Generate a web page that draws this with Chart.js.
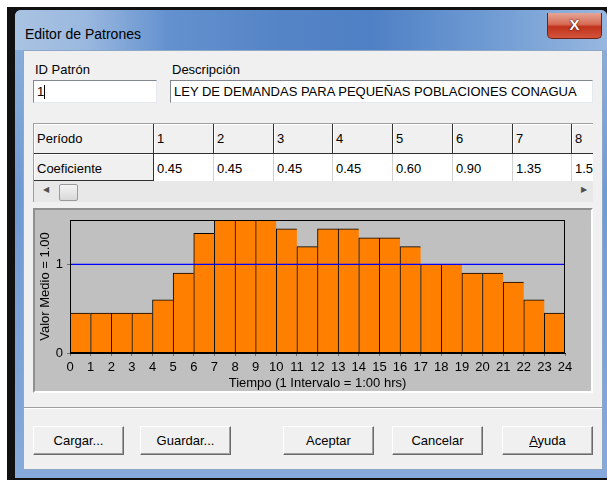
<!DOCTYPE html>
<html>
<head>
<meta charset="utf-8">
<script src="https://cdn.jsdelivr.net/npm/chart.js@4.4.0/dist/chart.umd.min.js"></script>
<style>
  body { margin: 0; width: 607px; height: 480px; background: #fff; position: relative; overflow: hidden;
         font-family: "Liberation Sans", Arial, sans-serif; font-size: 13px; color: #000; }
  .abs { position: absolute; box-sizing: border-box; }
  .outer { left: 7px; top: 7px; width: 600px; height: 473px; background: #111; }
  .frame { left: 15px; top: 10px; width: 592px; height: 468px; border-radius: 6px 6px 0 0;
           background: linear-gradient(180deg, #8fb2dc 0%, #6f9ad2 40%, #86aadb 100%); }
  .titlebar { left: 15px; top: 10px; width: 592px; height: 40px; border-radius: 6px 6px 0 0;
              background: linear-gradient(90deg, #a9c3e2 0%, #9ab8df 12%, #6391cf 26%, #5584c6 45%, #4f80c5 60%, #6f9bd3 80%, #97b7e0 100%); }
  .title { left: 25px; top: 26px; font-size: 14px; color: #000; }
  .close { left: 547px; top: 13px; width: 55px; height: 26px; border: 1px solid #6b2418; border-top: none;
           border-radius: 0 0 5px 5px; background: linear-gradient(180deg, #e6a596 0%, #d76b55 45%, #c1321c 55%, #d2553b 100%);
           color: #fff; font: bold 15px "Liberation Sans", Arial, sans-serif; text-align: center; line-height: 24px;
           text-shadow: 0 0 2px #4a1208, 0 0 1px #4a1208; }
  .content { left: 23px; top: 50px; width: 580px; height: 420px; background: #f0f0f0; border: 1px solid #8ea7c6; }
  .label { font-size: 13px; }
  .input { background: #fff; border: 1px solid; border-color: #828790 #e3e9ef #e3e9ef #828790; height: 23px;
           padding: 3px 0 0 3px; white-space: nowrap; overflow: hidden; }
  .caret { left: 44px; top: 85px; width: 1px; height: 14px; background: #000; }
  .grid { left: 33px; top: 123px; width: 560px; height: 79px; overflow: hidden; background: #f0f0f0;
          border-top: 1px solid #a0a0a0; border-left: 1px solid #a0a0a0; }
  .cell { position: absolute; box-sizing: border-box; padding: 7px 0 0 3px; white-space: nowrap; overflow: hidden; }
  .fixed { background: #f0f0f0; border-right: 1px solid #303030; border-bottom: 1px solid #303030;
           box-shadow: inset 1px 1px #fff; }
  .data { background: #fff; border-right: 1px solid #d0d0d0; }
  .scroll { left: 0; top: 57px; width: 560px; height: 21px; background: #e8e8e8; position: absolute; }
  .thumb { left: 25px; top: 3px; width: 17px; height: 15px; position: absolute; border: 1px solid #9a9a9a;
           border-radius: 2px; background: linear-gradient(180deg, #f4f4f4, #d8d8d8); }
  .arrow { position: absolute; top: 4px; font-size: 8px; color: #505050; }
  .panel { left: 33px; top: 208px; width: 560px; height: 185px; background: #c0c0c0; border: 2px solid;
           border-color: #909090 #fff #fff #909090; }
  .sep { left: 24px; top: 407px; width: 578px; height: 2px; border-top: 1px solid #a0a0a0; border-bottom: 1px solid #fff; }
  .btn { top: 426px; width: 91px; height: 29px; background: #f0f0f0; border: 1px solid;
         border-color: #fff #6a6a6a #6a6a6a #fff; box-shadow: inset -1px -1px #a0a0a0;
         text-align: center; line-height: 27px; font-size: 13px; }
</style>
</head>
<body>
<div class="abs outer"></div>
<div class="abs frame"></div>
<div class="abs titlebar"></div>
<div class="abs title">Editor de Patrones</div>
<div class="abs close">X</div>
<div class="abs content"></div>

<div class="abs label" style="left:35px;top:62px;">ID Patrón</div>
<div class="abs label" style="left:172px;top:62px;">Descripción</div>
<div class="abs input" style="left:33px;top:80px;width:124px;">1</div>
<div class="abs caret"></div>
<div class="abs input" style="left:170px;top:80px;width:423px;">LEY DE DEMANDAS PARA PEQUEÑAS POBLACIONES CONAGUA</div>

<div class="abs grid" id="grid">
  <div class="scroll">
    <span class="arrow" style="left:9px;">&#9664;</span>
    <div class="thumb"></div>
    <span class="arrow" style="left:547px;">&#9654;</span>
  </div>
</div>

<div class="abs panel"></div>
<canvas class="abs" id="patternChart" width="556" height="181" style="left:35px;top:210px;"></canvas>

<div class="abs sep"></div>
<div class="abs btn" style="left:33px;">Cargar...</div>
<div class="abs btn" style="left:140px;">Guardar...</div>
<div class="abs btn" style="left:283px;">Aceptar</div>
<div class="abs btn" style="left:392px;">Cancelar</div>
<div class="abs btn" style="left:502px;"><u>A</u>yuda</div>

<script>
// pattern multipliers, one per hour (periods 1..24)
const periods = [1, 2, 3, 4, 5, 6, 7, 8, 9, 10, 11, 12, 13, 14, 15, 16, 17, 18, 19, 20, 21, 22, 23, 24];
const coefficients = [0.45, 0.45, 0.45, 0.45, 0.60, 0.90, 1.35, 1.50, 1.50, 1.50, 1.40, 1.20,
                      1.40, 1.40, 1.30, 1.30, 1.20, 1.00, 1.00, 0.90, 0.90, 0.80, 0.60, 0.45];
const hourTicks = [0, 1, 2, 3, 4, 5, 6, 7, 8, 9, 10, 11, 12, 13, 14, 15, 16, 17, 18, 19, 20, 21, 22, 23, 24];
const valueTicks = [0, 1];
const valueMax = 1.5;

const meanValue = coefficients.reduce((a, b) => a + b, 0) / coefficients.length;

// grid above the chart (only the first columns are visible)
const grid = document.getElementById("grid");
const colW = 59.75;
function addCell(cls, left, top, width, height, text) {
	const d = document.createElement("div");
	d.className = "cell " + cls;
	d.style.left = left + "px";
	d.style.top = top + "px";
	d.style.width = width + "px";
	d.style.height = height + "px";
	d.textContent = text;
	grid.appendChild(d);
}
addCell("fixed", 0, 0, 120, 30, "Período");
addCell("fixed", 0, 30, 120, 27, "Coeficiente");
for (let i = 0; i < 8; i++) {
	const left = Math.round(120 + i * colW);
	const w = Math.round(120 + (i + 1) * colW) - left;
	addCell("fixed", left, 0, w, 30, String(periods[i]));
	addCell("data", left, 30, w, 27, coefficients[i].toFixed(2));
}

const font = { family: "'Liberation Sans', Arial, sans-serif", size: 13 };

// black box round the plot area
const plotFrame = {
	id: "plotFrame",
	afterDatasetsDraw(chart) {
		const { ctx, chartArea } = chart;
		ctx.save();
		ctx.strokeStyle = "#000";
		ctx.lineWidth = 1;
		ctx.strokeRect(Math.round(chartArea.left) + 0.5, Math.round(chartArea.top) + 0.5,
			Math.round(chartArea.right - chartArea.left) - 1, Math.round(chartArea.bottom - chartArea.top) - 1);
		ctx.restore();
	},
};

const ctx = document.getElementById("patternChart").getContext("2d");
new Chart(ctx, {
	data: {
		datasets: [
			{
				type: "line",
				data: [{ x: hourTicks[0], y: meanValue }, { x: hourTicks[hourTicks.length - 1], y: meanValue }],
				borderColor: "#0000ff",
				backgroundColor: "#0000ff",
				borderWidth: 1.2,
				pointRadius: 0,
				fill: false,
				order: 0,
			},
			{
				type: "bar",
				data: coefficients.map((v, i) => ({ x: i + 0.5, y: v })),
				backgroundColor: "#ff8000",
				borderColor: "#000",
				borderWidth: { top: 1, left: 1, right: 0, bottom: 0 },
				borderSkipped: false,
				barPercentage: 1,
				categoryPercentage: 1,
				order: 1,
			},
		],
	},
	options: {
		responsive: false,
		animation: false,
		layout: { padding: { top: 10, right: 26, left: 0, bottom: 0 } },
		plugins: { legend: { display: false }, tooltip: { enabled: false } },
		scales: {
			x: {
				type: "linear",
				min: 0,
				max: 24,
				offset: false,
				afterBuildTicks: (s) => { s.ticks = hourTicks.map((v) => ({ value: v })); },
				afterFit: (s) => { s.height = 38; s.paddingLeft = 0; s.paddingRight = 0; },
				ticks: { autoSkip: false, maxRotation: 0, color: "#000", font: font, padding: 4 },
				grid: { offset: false, drawOnChartArea: false, tickLength: 3, color: "#707070" },
				border: { color: "#000" },
				title: { display: true, text: "Tiempo (1 Intervalo = 1:00 hrs)", color: "#000", font: font,
					padding: { top: 0, bottom: 0 } },
			},
			y: {
				min: 0,
				max: valueMax,
				afterBuildTicks: (s) => { s.ticks = valueTicks.map((v) => ({ value: v })); },
				afterFit: (s) => { s.width = 35; s.paddingTop = 0; s.paddingBottom = 0; },
				ticks: { color: "#000", font: font, padding: 4 },
				grid: { drawOnChartArea: false, tickLength: 3, color: "#707070" },
				border: { color: "#000" },
				title: { display: true, text: "Valor Medio = " + meanValue.toFixed(2), color: "#000", font: font,
					padding: { top: 3, bottom: 0 } },
			},
		},
	},
	plugins: [plotFrame],
});
</script>
</body>
</html>
